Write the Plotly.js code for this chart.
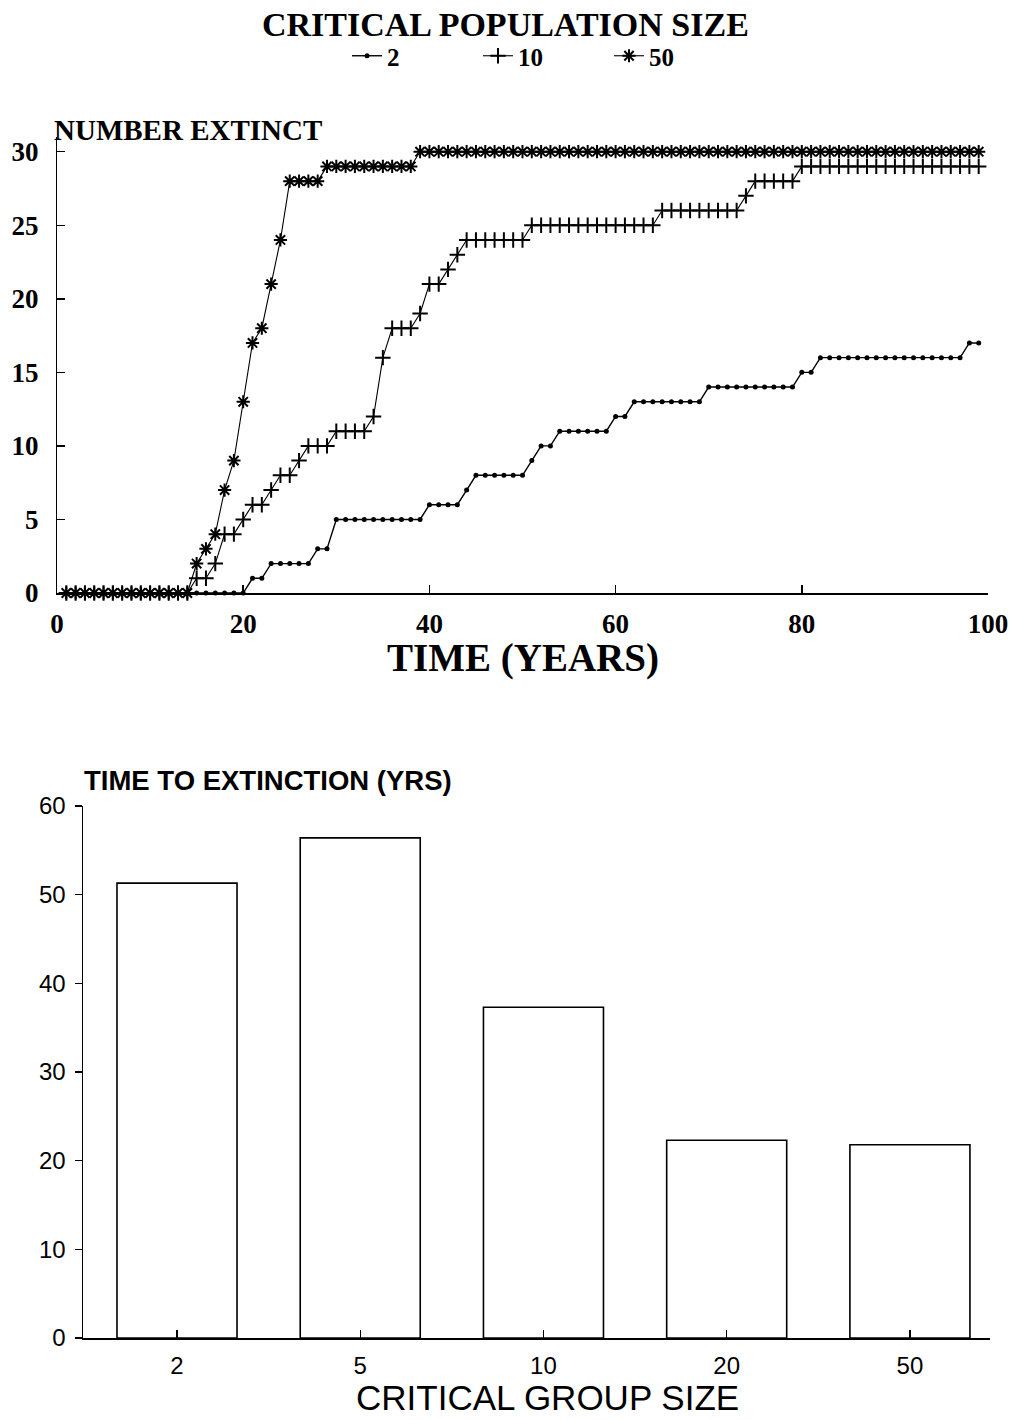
<!DOCTYPE html>
<html><head><meta charset="utf-8">
<script src="https://cdn.plot.ly/plotly-3.0.1.min.js"></script>
<style>body{margin:0;background:#fff}</style>
</head><body>
<div id="chart" style="width:1019px;height:1420px"></div>
<script>
// ---- Data ----
const years = [1,2,3,4,5,6,7,8,9,10,
  11,12,13,14,15,16,17,18,19,20,
  21,22,23,24,25,26,27,28,29,30,
  31,32,33,34,35,36,37,38,39,40,
  41,42,43,44,45,46,47,48,49,50,
  51,52,53,54,55,56,57,58,59,60,
  61,62,63,64,65,66,67,68,69,70,
  71,72,73,74,75,76,77,78,79,80,
  81,82,83,84,85,86,87,88,89,90,
  91,92,93,94,95,96,97,98,99];
const extinct2 = [0,0,0,0,0,0,0,0,0,0,
  0,0,0,0,0,0,0,0,0,0,
  1,1,2,2,2,2,2,3,3,5,
  5,5,5,5,5,5,5,5,5,6,
  6,6,6,7,8,8,8,8,8,8,
  9,10,10,11,11,11,11,11,11,12,
  12,13,13,13,13,13,13,13,13,14,
  14,14,14,14,14,14,14,14,14,15,
  15,16,16,16,16,16,16,16,16,16,
  16,16,16,16,16,16,16,17,17];
const extinct10 = [0,0,0,0,0,0,0,0,0,0,
  0,0,0,0,1,1,2,4,4,5,
  6,6,7,8,8,9,10,10,10,11,
  11,11,11,12,16,18,18,18,19,21,
  21,22,23,24,24,24,24,24,24,24,
  25,25,25,25,25,25,25,25,25,25,
  25,25,25,25,26,26,26,26,26,26,
  26,26,26,27,28,28,28,28,28,29,
  29,29,29,29,29,29,29,29,29,29,
  29,29,29,29,29,29,29,29,29];
const extinct50 = [0,0,0,0,0,0,0,0,0,0,
  0,0,0,0,2,3,4,7,9,13,
  17,18,21,24,28,28,28,28,29,29,
  29,29,29,29,29,29,29,29,30,30,
  30,30,30,30,30,30,30,30,30,30,
  30,30,30,30,30,30,30,30,30,30,
  30,30,30,30,30,30,30,30,30,30,
  30,30,30,30,30,30,30,30,30,30,
  30,30,30,30,30,30,30,30,30,30,
  30,30,30,30,30,30,30,30,30];
const seriesNames = ['2','10','50'];
const timeTicks = [0,20,40,60,80,100];
const extinctTicks = [0,5,10,15,20,25,30];

const groupSizes = ['2','5','10','20','50'];
const timeToExtinction = [51.3,56.4,37.3,22.3,21.8];
const barTicks = [0,10,20,30,40,50,60];

// ---- Layout helpers ----
const W = 1019, H = 1420;
const px = v => v / W;
const py = v => 1 - v / H;
const serif = 'Liberation Serif, Times New Roman, serif';
const sans = 'Liberation Sans, Arial, sans-serif';

const traces = [
  {x: years, y: extinct2, name: seriesNames[0], type: 'scatter', mode: 'lines+markers',
   xaxis: 'x', yaxis: 'y', cliponaxis: false,
   line: {color: '#000', width: 1.4},
   marker: {symbol: 'circle', size: 5, color: '#000'}},
  {x: years, y: extinct10, name: seriesNames[1], type: 'scatter', mode: 'lines+markers',
   xaxis: 'x', yaxis: 'y', cliponaxis: false,
   line: {color: '#000', width: 1.1},
   marker: {symbol: 'cross-thin-open', size: 11, color: '#000', line: {color: '#000', width: 2}}},
  {x: years, y: extinct50, name: seriesNames[2], type: 'scatter', mode: 'lines+markers',
   xaxis: 'x', yaxis: 'y', cliponaxis: false,
   line: {color: '#000', width: 1.1},
   marker: {symbol: 'asterisk-open', size: 11, color: '#000', line: {color: '#000', width: 2}}},
  {x: groupSizes, y: timeToExtinction, type: 'bar', xaxis: 'x2', yaxis: 'y2',
   width: 0.655, showlegend: false,
   marker: {color: '#fff', line: {color: '#000', width: 1.6}}}
];

const layout = {
  width: W, height: H,
  margin: {l: 0, r: 0, t: 0, b: 0},
  paper_bgcolor: '#fff', plot_bgcolor: '#fff',
  showlegend: true,
  legend: {orientation: 'h', x: px(347), y: py(33), xanchor: 'left', yanchor: 'top',
           font: {family: serif, size: 25, weight: 700, color: '#000'},
           entrywidth: 86, entrywidthmode: 'pixels', itemwidth: 30,
           bgcolor: 'rgba(0,0,0,0)'},
  xaxis: {domain: [px(57), px(988)], range: [0, 100], anchor: 'y',
          tickvals: timeTicks, ticks: 'inside', ticklen: 8, tickwidth: 1.5, tickcolor: '#000',
          showline: true, linecolor: '#000', linewidth: 1.5, showgrid: false, zeroline: false,
          tickfont: {family: serif, size: 27, weight: 700, color: '#000'}, ticklabelstandoff: 6},
  yaxis: {domain: [py(593), py(137)], range: [0, 31], anchor: 'x',
          tickvals: extinctTicks, ticks: 'inside', ticklen: 8, tickwidth: 1.5, tickcolor: '#000',
          showline: true, linecolor: '#000', linewidth: 1.2, showgrid: false, zeroline: false,
          tickfont: {family: serif, size: 27, weight: 700, color: '#000'}, ticklabelstandoff: 12},
  xaxis2: {domain: [px(83), px(990)], range: [-0.513, 4.437], type: 'category', anchor: 'y2',
           ticks: 'inside', ticklen: 8, tickwidth: 1.2, tickcolor: '#000',
           showline: true, linecolor: '#000', linewidth: 1.5, showgrid: false, zeroline: false,
           tickfont: {family: sans, size: 24, color: '#000'}, ticklabelstandoff: 6},
  yaxis2: {domain: [py(1338), py(806)], range: [0, 60], anchor: 'x2',
           tickvals: barTicks, ticks: 'outside', ticklen: 7, tickwidth: 1.5, tickcolor: '#000',
           showline: true, linecolor: '#000', linewidth: 1.5, showgrid: false, zeroline: false,
           tickfont: {family: sans, size: 24, color: '#000'}, ticklabelstandoff: 4},
  annotations: [
    {text: 'CRITICAL POPULATION SIZE', x: px(505), y: py(25), xref: 'paper', yref: 'paper',
     xanchor: 'center', yanchor: 'middle', showarrow: false,
     font: {family: serif, size: 34, weight: 700, color: '#000'}},
    {text: 'NUMBER EXTINCT', x: px(52), y: py(130), xref: 'paper', yref: 'paper',
     xanchor: 'left', yanchor: 'middle', showarrow: false,
     font: {family: serif, size: 29, weight: 700, color: '#000'}},
    {text: 'TIME (YEARS)', x: px(523), y: py(658), xref: 'paper', yref: 'paper',
     xanchor: 'center', yanchor: 'middle', showarrow: false,
     font: {family: serif, size: 39, weight: 700, color: '#000'}},
    {text: 'TIME TO EXTINCTION (YRS)', x: px(82), y: py(780), xref: 'paper', yref: 'paper',
     xanchor: 'left', yanchor: 'middle', showarrow: false,
     font: {family: sans, size: 27.5, weight: 700, color: '#000'}},
    {text: 'CRITICAL GROUP SIZE', x: px(547), y: py(1397), xref: 'paper', yref: 'paper',
     xanchor: 'center', yanchor: 'middle', showarrow: false,
     font: {family: sans, size: 35, color: '#000'}}
  ]
};

Plotly.newPlot('chart', traces, layout, {staticPlot: true, displayModeBar: false});
</script>
</body></html>
